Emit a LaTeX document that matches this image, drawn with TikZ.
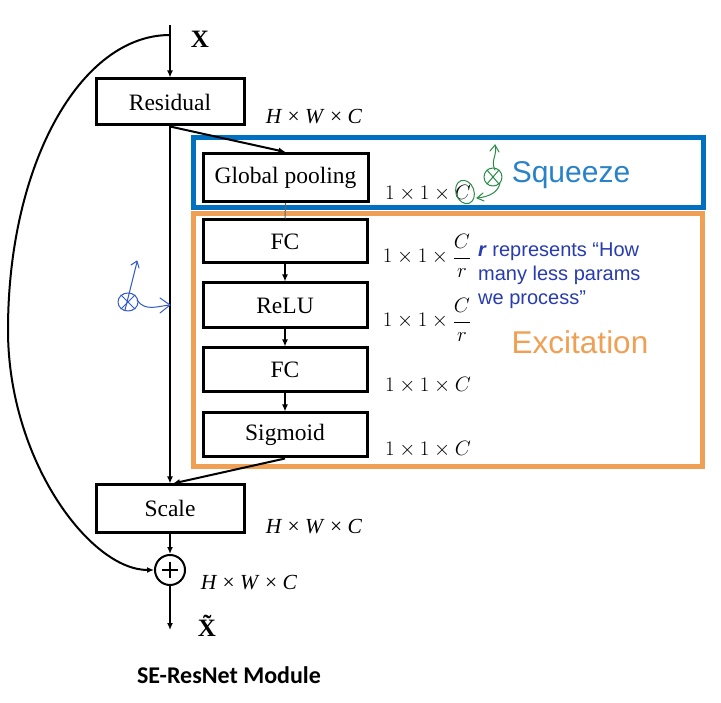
\documentclass[tikz,border=0pt]{standalone}
\usepackage{fontspec}
\setmainfont{Liberation Serif}
\newfontfamily\arialf{Liberation Sans}
\newfontfamily\calf{Carlito}
\usetikzlibrary{arrows.meta,calc}
\definecolor{sqblue}{RGB}{0,112,192}
\definecolor{sqtext}{RGB}{40,130,200}
\definecolor{exorange}{RGB}{240,160,85}
\definecolor{annblue}{RGB}{40,60,175}
\definecolor{handblue}{RGB}{50,90,200}
\definecolor{handgreen}{RGB}{40,140,70}
\begin{document}
\begin{tikzpicture}[x=1pt,y=-1pt,
  blk/.style={draw, line width=3pt, inner sep=0pt, font=\fontsize{23.5}{25}\selectfont},
  wideblk/.style={blk, minimum width=148pt},
  seblk/.style={blk, minimum width=164pt},
  conn/.style={line width=2pt, -{Latex[length=7pt,width=6pt]}},
  dimlbl/.style={font=\fontsize{21.5}{23}\selectfont},
  hand/.style={line width=1pt, line cap=round, line join=round}]
\useasboundingbox (0,0) rectangle (721,703);
\fill[white] (0,0) rectangle (721,703);

% group frames
\draw[sqblue, line width=5pt] (193,138) rectangle (703,208);
\draw[exorange, line width=5pt] (193,214) rectangle (702,467);

% blocks
\node[wideblk, minimum height=46pt] (res) at (170,102) {Residual};
\node[seblk, minimum width=165pt, minimum height=48pt] (gp) at (285.5,177.5) {Global pooling};
\node[seblk, minimum height=43pt] (fc1) at (285,241.5) {FC};
\node[seblk, minimum height=45pt] (relu) at (285,305.5) {ReLU};
\node[seblk, minimum height=44pt] (fc2) at (285,370) {FC};
\node[seblk, minimum height=44pt] (sig) at (285,435) {Sigmoid};
\node[wideblk, minimum height=47pt] (scale) at (170,508.5) {Scale};
\node[draw, circle, line width=2pt, minimum size=30pt, inner sep=0pt,
      path picture={\draw[line width=1.3pt] ($(path picture bounding box.center)+(-8,0)$) -- ($(path picture bounding box.center)+(8,0)$)
                    ($(path picture bounding box.center)+(0,-8)$) -- ($(path picture bounding box.center)+(0,8)$);}] (plus) at (170,570) {};

\coordinate (xin) at (170,25);
\coordinate (xout) at (170,630);
\coordinate (skip) at (170,35);

% connectors
\draw[conn] (xin) -- (res.north);
\draw[conn] (res.south) -- (scale.north);
\draw[conn] (res.south) -- (gp.north);
\draw[line width=1pt, black!60] (gp.south) -- (fc1.north);
\draw[conn] (fc1.south) -- (relu.north);
\draw[conn] (relu.south) -- (fc2.north);
\draw[conn] (fc2.south) -- (sig.north);
\draw[conn] (sig.south) -- ($(scale.north)+(3,0)$);
\draw[conn] (scale.south) -- (plus.north);
\draw[conn] (plus.south) -- (xout);
\draw[conn] (skip) .. controls (80,35) and (8,165) .. (8,330)
   .. controls (8,460) and (90,570) .. (plus.west);

% labels
\node[font=\fontsize{25}{27}\selectfont\bfseries] (xlbl) at (200,39) {X};
\node[font=\fontsize{25}{27}\selectfont\bfseries] (xtl) at (207,626) {\~{X}};
\node[dimlbl] (d1) at (314,117) {\textit{H} × \textit{W} × \textit{C}};
\node[dimlbl] (d2) at (428,193) {$1\times1\times C$};
\node[dimlbl] (d3) at (427,256) {$1\times1\times\displaystyle\frac{C}{r}$};
\node[dimlbl] (d4) at (427,320) {$1\times1\times\displaystyle\frac{C}{r}$};
\node[dimlbl] (d5) at (428,385) {$1\times1\times C$};
\node[dimlbl] (d6) at (428,449) {$1\times1\times C$};
\node[dimlbl] (d7) at (314,527) {\textit{H} × \textit{W} × \textit{C}};
\node[dimlbl] (d8) at (249,583) {\textit{H} × \textit{W} × \textit{C}};

\node[font=\arialf\fontsize{30}{32}\selectfont, text=sqtext] (sq) at (571,175) {Squeeze};
\node[font=\arialf\fontsize{31.5}{33}\selectfont, text=exorange] (ex) at (580,342) {Excitation};
\node[font=\arialf\fontsize{20}{24}\selectfont, text=annblue, align=left, anchor=north west, inner sep=0pt] (ann) at (478,243)
  {\textbf{\textit{r}} represents “How\\many less params\\we process”};
\node[font=\calf\bfseries\fontsize{24}{26}\selectfont] (title) at (229,675) {SE-ResNet Module};

% handwritten annotations (blue)
\draw[handblue, hand] (128,302) ellipse (10pt and 9pt);
\draw[handblue, hand] (121,295) -- (135,309) (135,295) -- (121,309);
\draw[handblue, hand] (125,310) -- (137,262);
\draw[handblue, hand] (131,265) -- (137,261) -- (139,268);
\draw[handblue, hand] (137,300) .. controls (145,312) and (158,306) .. (170,305);
\draw[handblue, hand] (160,298) -- (170,305) -- (160,313);

% handwritten annotations (green)
\draw[handgreen, hand, rotate around={20:(465,192)}] (465,192) ellipse (9pt and 12pt);
\draw[handgreen, hand] (493,177) circle (9pt);
\draw[handgreen, hand] (487,170) -- (499,184) (499,170) -- (487,184);
\draw[handgreen, hand] (495,170) .. controls (490,160) and (498,155) .. (495,145);
\draw[handgreen, hand] (490,151) -- (495,145) -- (499,152);
\draw[handgreen, hand] (500,183) .. controls (498,193) and (488,197) .. (477,198);
\draw[handgreen, hand] (483,193) -- (477,198) -- (484,201);
\end{tikzpicture}
\end{document}
